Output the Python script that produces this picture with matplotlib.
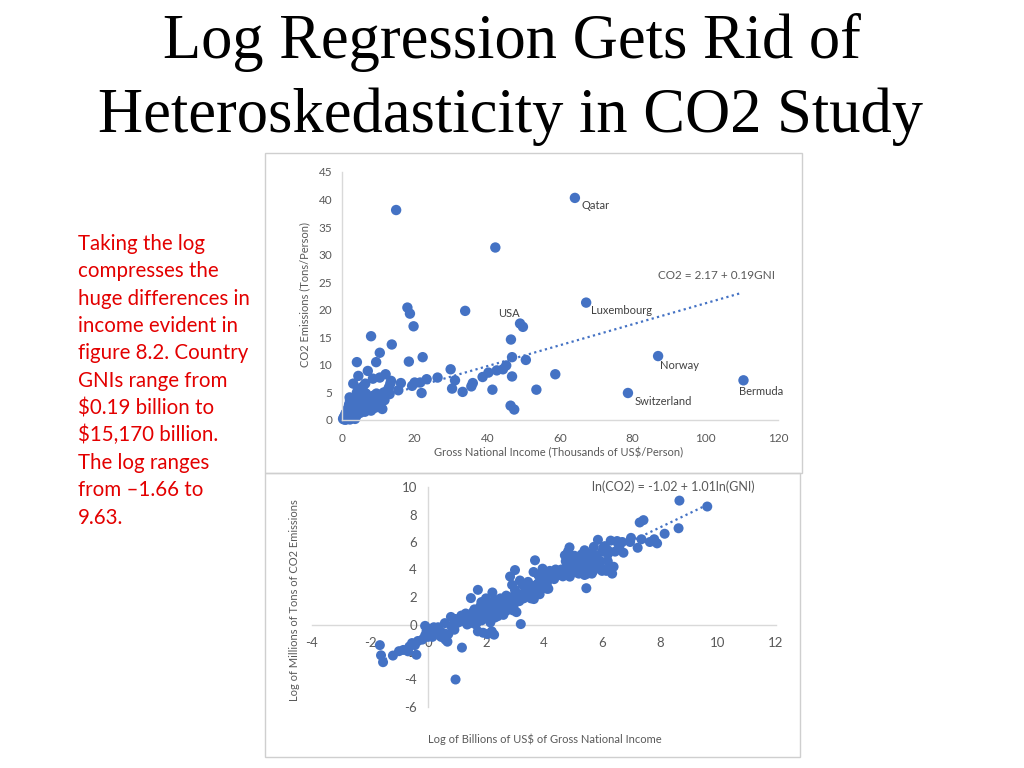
import matplotlib
matplotlib.use("Agg")
import matplotlib.pyplot as plt
from matplotlib.patches import Rectangle
import numpy as np

plt.rcParams["axes.unicode_minus"] = False

# ---------------- data ----------------
title_lines = ["Log Regression Gets Rid of", "Heteroskedasticity in CO2 Study"]
note_lines = ["Taking the log", "compresses the", "huge differences in", "income evident in",
              "figure 8.2. Country", "GNIs range from", "$0.19 billion to", "$15,170 billion.",
              "The log ranges", "from \u20131.66 to", "9.63."]

# Top chart: GNI per person (thousands US$) vs CO2 per person (tons)
top_gni = [64.1, 14.9, 42.2, 67.2, 33.9, 18.0, 18.7, 19.7, 49.0, 49.8, 46.5, 8.0, 13.7, 10.4,
           4.1, 9.4, 18.4, 22.2, 46.8, 50.6, 87.0, 29.9, 7.1, 4.5, 12.0, 8.5, 10.4, 13.5, 16.2,
           20.0, 21.5, 23.3, 26.3, 31.1, 35.6, 36.0, 38.7, 40.3, 42.6, 44.3, 45.2, 46.8, 58.7,
           19.3, 30.3, 33.2, 41.4, 53.5, 21.9, 15.5, 78.7, 110.5, 46.4, 47.4, 11.1,
           0.3, 0.5, 0.6, 0.8, 0.9, 1.0, 1.1, 1.2, 1.3, 1.4, 1.5, 1.6, 1.7, 1.8, 1.9, 2.0, 2.1,
           2.2, 2.3, 2.4, 2.5, 2.6, 2.7, 2.8, 2.9, 3.0, 3.1, 3.2, 3.3, 3.4, 3.5, 3.6, 3.7, 3.8,
           3.9, 4.0, 4.1, 4.2, 4.3, 4.4, 4.5, 4.6, 4.7, 4.8, 4.9, 5.0, 5.1, 5.2, 5.3, 5.4, 5.5,
           5.6, 5.7, 5.8, 5.9, 6.0, 6.1, 6.2, 6.4, 6.5, 6.6, 6.8, 7.0, 7.1, 7.2, 7.4, 7.6, 7.8,
           8.0, 8.2, 8.4, 8.6, 8.8, 9.0, 9.3, 9.6, 10.0, 10.2, 10.6, 11.0, 11.7, 12.2, 12.6,
           13.1, 13.3, 12.9, 11.5, 2.2, 1.0, 3.5, 2.0, 6.3, 7.5, 9.5, 4.0, 5.0]
top_co2 = [40.3, 38.1, 31.3, 21.3, 19.8, 20.4, 19.3, 17.0, 17.5, 16.9, 14.6, 15.2, 13.7, 12.2,
           10.5, 10.5, 10.6, 11.4, 11.4, 10.9, 11.6, 9.2, 8.9, 8.0, 8.3, 7.5, 7.7, 7.1, 6.7,
           6.8, 6.8, 7.4, 7.7, 7.2, 6.1, 6.7, 7.8, 8.6, 9.0, 9.2, 9.9, 7.9, 8.3,
           6.2, 5.7, 5.1, 5.5, 5.5, 4.9, 5.4, 4.9, 7.2, 2.6, 1.9, 2.0,
           0.2, 0.5, 0.1, 0.8, 0.3, 1.2, 0.6, 0.2, 1.5, 0.9, 0.4, 2.0, 1.2, 0.7, 2.6, 1.6, 4.1,
           3.6, 1.0, 2.2, 0.5, 1.8, 3.0, 1.3, 2.5, 0.9, 6.6, 2.0, 3.3, 1.5, 2.8, 0.2, 4.0, 2.3,
           1.8, 3.5, 5.0, 2.6, 1.2, 3.9, 5.7, 2.1, 3.1, 4.6, 1.6, 2.9, 3.7, 5.2, 2.4, 4.2, 3.0,
           1.9, 3.5, 6.1, 2.7, 2.3, 4.0, 3.2, 6.6, 2.0, 4.8, 3.6, 2.6, 4.1, 3.0, 2.9, 3.9, 2.4,
           1.7, 3.3, 2.8, 4.4, 3.5, 2.2, 3.8, 3.0, 4.5, 4.1, 3.4, 4.3, 3.6, 4.6, 5.4,
           4.7, 6.6, 5.9, 5.0, 0.1, 0.05, 1.0, 2.9, 1.5, 2.0, 4.8, 0.8, 1.3]
top_names = ["Qatar", "USA", "Luxembourg", "Norway", "Switzerland", "Bermuda"]
top_name_x = [66.0, 43.0, 68.5, 87.5, 80.4, 109.3]
top_name_y = [39.0, 19.4, 19.8, 9.8, 3.4, 5.1]
top_fit = (2.17, 0.19)
top_fit_range = (0.0, 110.0)
top_eq = "CO2 = 2.17 + 0.19GNI"
top_xticks = [0, 20, 40, 60, 80, 100, 120]
top_yticks = [0, 5, 10, 15, 20, 25, 30, 35, 40, 45]

# Bottom chart: log GNI (billions US$) vs log CO2 (millions of tons)
bot_lgni = [-1.66, -1.62, -1.55, -1.21, -1.0, -0.85, -0.69, -0.64, -0.55, -0.4, -0.45, -0.35,
            -0.2, -0.1, -0.05, 0.0, 0.05, 0.1, 0.15, 0.3, 0.45, 0.5, 0.6, 0.67, 0.58, 0.79,
            0.91, 0.95, 1.17, 0.95, 1.1, 1.3, 1.4, 1.45, 1.55, 1.6, 1.7, 1.72, 1.9, 2.05, 2.2,
            2.28, 1.48, 1.72, 1.84, 2.22, 2.2, 2.3, 1.9, 2.0, 2.1, 2.4, 2.5, 2.6, 2.5, 2.7,
            2.8, 2.3, 2.15, 2.45, 2.83, 2.9, 3.0, 3.17, 2.93, 2.95, 3.05, 3.2, 3.2, 3.3, 3.4,
            3.5, 3.55, 3.6, 3.64, 3.69, 3.7, 3.8, 3.85, 3.9, 3.95, 4.0, 4.05, 4.1, 4.2, 4.3,
            4.45, 4.5, 4.6, 4.72, 4.83, 4.88, 4.89, 4.8, 4.9, 5.0, 5.0, 5.1, 5.15, 5.2, 5.25,
            5.3, 5.35, 5.4, 5.46, 5.5, 5.55, 5.6, 5.64, 5.72, 5.7, 5.8, 5.86, 5.9, 6.0, 6.05,
            6.15, 6.2, 6.3, 6.2, 6.35, 6.52, 6.6, 6.74, 6.97, 7.0, 7.23, 7.3, 7.36, 7.43, 7.65,
            7.8, 7.9, 8.16, 8.64, 8.67, 9.63,
            0.2, -0.1, 0.0, 0.25, 0.35, 0.8, 1.0, 1.15, 1.25, 1.35, 0.7, 1.5,
            1.6, 1.65, 1.75, 1.8, 1.85, 1.95, 2.0, 2.05, 2.1, 2.15, 2.25, 2.3, 2.35, 2.4, 2.45,
            2.55, 2.6, 2.65, 2.7, 2.75, 2.85, 2.9, 2.95, 3.0, 3.05, 3.1, 3.15,
            3.25, 3.3, 3.35, 3.45, 3.5, 3.6, 3.65, 3.75, 3.8, 3.9, 3.95, 4.0, 4.1, 4.15, 4.25,
            4.35, 4.4, 4.55, 4.65,
            4.75, 4.8, 4.85, 4.95, 5.05, 5.05, 5.1, 5.15, 5.2, 5.3, 5.35, 5.4, 5.45, 5.5, 5.55,
            5.6, 5.65, 5.75, 5.8, 5.85, 5.95, 6.0, 6.1, 6.25, 6.3, 6.4, 6.45, 6.55, 6.7, 6.2,
            6.05]
bot_lco2 = [-1.5, -2.24, -2.74, -2.26, -1.94, -1.85, -1.95, -1.6, -1.35, -2.2, -1.5, -1.2,
            -1.1, -0.8, -0.5, -0.3, -0.6, -0.35, -0.9, -0.7, -0.9, -0.6, -1.1, -1.25, 0.1, 0.55,
            -0.38, -4.0, -1.68, 0.4, 0.2, 0.8, 0.5, 0.1, 0.9, 0.4, 0.2, -0.5, -0.6, -0.7, -0.5,
            -0.74, 1.92, 2.52, 1.63, 2.33, 1.5, 1.2, 1.1, 0.8, 0.6, 1.6, 1.3, 1.0, 1.9, 2.1,
            1.6, 0.5, 1.0, 0.9, 3.49, 2.88, 3.96, 3.2, 1.03, 1.3, 1.8, 2.0, 0.03, 2.3, 2.6,
            2.2, 1.9, 2.8, 3.82, 4.67, 2.5, 3.0, 2.2, 3.3, 4.06, 2.8, 3.5, 2.6, 3.9, 3.4,
            3.85, 3.6, 4.0, 5.03, 5.32, 5.61, 3.48, 4.3, 4.5, 4.1, 4.8, 4.4, 4.9, 3.7, 4.6,
            5.1, 4.2, 5.4, 2.64, 3.7, 4.7, 4.3, 5.17, 5.65, 3.9, 4.4, 6.16, 4.1, 5.3, 4.0,
            3.9, 4.6, 6.1, 5.4, 3.7, 6.07, 5.7, 5.22, 6.0, 6.3, 5.58, 7.42, 6.2, 7.59, 6.0,
            6.2, 5.9, 6.6, 7.0, 9.01, 8.58,
            -0.2, -0.1, -0.9, -0.5, -0.2, -0.1, 0.1, 0.65, 0.25, 0.0, -0.7, 0.65,
            1.1, 0.0, 0.7, 1.3, 0.3, 0.9, 1.9, 0.5, 1.35, 0.15, 0.8, 1.8, 1.45, 0.6, 1.25,
            1.6, 0.7, 1.4, 1.0, 1.8, 1.2, 2.0, 1.55, 2.5, 0.9, 2.2, 1.7,
            2.9, 1.9, 2.1, 3.1, 2.7, 2.4, 1.85, 2.9, 3.6, 2.7, 3.1, 3.3, 3.0, 2.6, 3.6,
            3.3, 4.0, 3.8, 3.5,
            4.6, 4.0, 4.8, 4.2, 4.6, 5.0, 3.8, 4.35, 4.7, 4.4, 4.9, 3.6, 4.5, 5.2, 4.0,
            4.8, 3.7, 4.5, 5.0, 4.2, 4.6, 3.9, 5.7, 4.0, 3.9, 4.2, 5.3, 5.9, 6.0, 5.1,
            5.6]
bot_fit = (-1.02, 1.01)
bot_fit_range = (-1.66, 9.63)
bot_eq = "ln(CO2) = -1.02 + 1.01ln(GNI)"
bot_xticks = [-4, -2, 0, 2, 4, 6, 8, 10, 12]
bot_yticks = [-6, -4, -2, 0, 2, 4, 6, 8, 10]

# ---------------- style ----------------
W, H = 1024, 768
BLUE = "#4472C4"
GRAY = "#595959"
AXC = "#d9d9d9"
CHART_FONT = ["Lato", "DejaVu Sans"]

fig = plt.figure(figsize=(W / 100, H / 100), dpi=100)
fig.patch.set_facecolor("white")


def fx(px):
    return px / W


def fy(py):
    return 1 - py / H


# title
fig.text(fx(512), fy(58), title_lines[0], ha="center", va="baseline",
         fontsize=45, family=["Liberation Serif", "DejaVu Serif"], color="black")
fig.text(fx(511), fy(132), title_lines[1], ha="center", va="baseline",
         fontsize=45, family=["Liberation Serif", "DejaVu Serif"], color="black")

# red note
for i, line in enumerate(note_lines):
    fig.text(fx(78), fy(250 + 27.35 * i), line, ha="left", va="baseline",
             fontsize=14.8, family=CHART_FONT, color="#E30000")

# chart frames
fig.add_artist(Rectangle((fx(265), fy(473)), fx(802) - fx(265), fy(153) - fy(473),
                         transform=fig.transFigure, fill=False, edgecolor="#cfcfcf", lw=1))
fig.add_artist(Rectangle((fx(265), fy(757)), fx(800) - fx(265), fy(473) - fy(757),
                         transform=fig.transFigure, fill=False, edgecolor="#cfcfcf", lw=1))

# ---------------- top chart ----------------
ax1 = fig.add_axes([fx(342), fy(420), fx(778) - fx(342), fy(172) - fy(420)])
ax1.set_facecolor("none")
xx = np.array(top_fit_range)
ax1.plot(xx, top_fit[0] + top_fit[1] * xx, linestyle=(0, (1, 1.5)), color=BLUE, lw=1.6, zorder=1)
ax1.scatter(top_gni, top_co2, s=56, color=BLUE, edgecolors="none", zorder=2, clip_on=False)
ax1.set_xlim(0, 120)
ax1.set_ylim(0, 45)
ax1.set_xticks(top_xticks)
ax1.set_yticks(top_yticks)
for s in ["top", "right"]:
    ax1.spines[s].set_visible(False)
for s in ["left", "bottom"]:
    ax1.spines[s].set_color(AXC)
    ax1.spines[s].set_linewidth(1)
ax1.tick_params(axis="both", length=0, labelsize=8.5, labelcolor=GRAY)
ax1.tick_params(axis="x", pad=9)
ax1.tick_params(axis="y", pad=7)
for lab in ax1.get_xticklabels() + ax1.get_yticklabels():
    lab.set_family(CHART_FONT)
for name, x, y in zip(top_names, top_name_x, top_name_y):
    ax1.text(x, y, name, fontsize=8, color="#404040", family=CHART_FONT, va="center", ha="left")
ax1.text(103.1, 26.2, top_eq, fontsize=8.5, color=GRAY, family=CHART_FONT, ha="center", va="center")
fig.text(fx(559), fy(453), "Gross National Income (Thousands of US$/Person)", ha="center",
         va="center", fontsize=8, color=GRAY, family=CHART_FONT)
fig.text(fx(305), fy(295), "CO2 Emissions (Tons/Person)", ha="center", va="center",
         rotation=90, fontsize=8, color=GRAY, family=CHART_FONT)

# ---------------- bottom chart ----------------
ax2 = fig.add_axes([fx(312), fy(707), fx(776) - fx(312), fy(487) - fy(707)])
ax2.set_facecolor("none")
xx = np.array(bot_fit_range)
ax2.plot(xx, bot_fit[0] + bot_fit[1] * xx, linestyle=(0, (1, 1.5)), color=BLUE, lw=1.6, zorder=1)
ax2.scatter(bot_lgni, bot_lco2, s=52, color=BLUE, edgecolors="none", zorder=3, clip_on=False)
ax2.set_xlim(-4, 12)
ax2.set_ylim(-6, 10)
ax2.set_xticks(bot_xticks)
ax2.set_yticks(bot_yticks)
for s in ["top", "right"]:
    ax2.spines[s].set_visible(False)
for s in ["left", "bottom"]:
    ax2.spines[s].set_position(("data", 0))
    ax2.spines[s].set_color(AXC)
    ax2.spines[s].set_linewidth(1)
    ax2.spines[s].set_zorder(0.5)
ax2.tick_params(axis="both", length=0, labelsize=9.5, labelcolor=GRAY)
ax2.tick_params(axis="x", pad=9)
ax2.tick_params(axis="y", pad=8)
for lab in ax2.get_xticklabels() + ax2.get_yticklabels():
    lab.set_family(CHART_FONT)
    lab.set_zorder(2)
ax2.text(8.45, 10.0, bot_eq, fontsize=9, color=GRAY, family=CHART_FONT, ha="center", va="center")
fig.text(fx(545), fy(739), "Log of Billions of US$ of Gross National Income", ha="center",
         va="center", fontsize=8, color=GRAY, family=CHART_FONT)
fig.text(fx(295), fy(600), "Log of Millions of Tons of CO2 Emissions", ha="center", va="center",
         rotation=90, fontsize=8, color=GRAY, family=CHART_FONT)

fig.savefig("out.png", dpi=100)
